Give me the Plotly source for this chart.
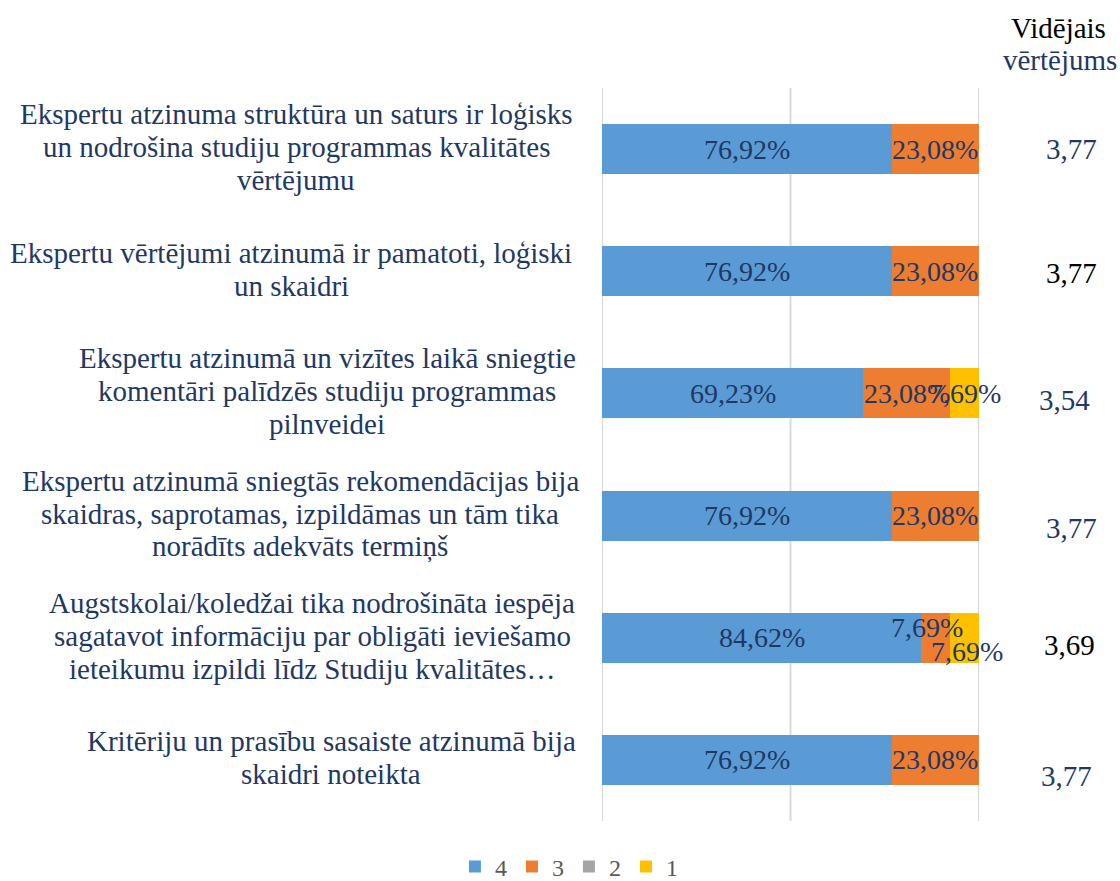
import plotly.graph_objects as go

categories = [
    ["Ekspertu atzinuma struktūra un saturs ir loģisks",
     "un nodrošina studiju programmas kvalitātes", "vērtējumu"],
    ["Ekspertu vērtējumi atzinumā ir pamatoti, loģiski", "un skaidri"],
    ["Ekspertu atzinumā un vizītes laikā sniegtie",
     "komentāri palīdzēs studiju programmas", "pilnveidei"],
    ["Ekspertu atzinumā sniegtās rekomendācijas bija",
     "skaidras, saprotamas, izpildāmas un tām tika", "norādīts adekvāts termiņš"],
    ["Augstskolai/koledžai tika nodrošināta iespēja",
     "sagatavot informāciju par obligāti ieviešamo",
     "ieteikumu izpildi līdz Studiju kvalitātes…"],
    ["Kritēriju un prasību sasaiste atzinumā bija", "skaidri noteikta"],
]
series_names = ["4", "3", "2", "1"]
v4 = [76.92, 76.92, 69.23, 76.92, 84.62, 76.92]
v3 = [23.08, 23.08, 23.08, 23.08, 7.69, 23.08]
v2 = [0, 0, 0, 0, 0, 0]
v1 = [0, 0, 7.69, 0, 7.69, 0]
averages = ["3,77", "3,77", "3,54", "3,77", "3,69", "3,77"]
header = ["Vidējais", "vērtējums"]

colors = ["#5B9BD5", "#ED7D31", "#A5A5A5", "#FFC000"]
avg_colors = ["#1F3864", "#000000", "#1F3864", "#1F3864", "#000000", "#1F3864"]
avg_yshift = [0, -2, -7, -12, -7, -16]
avg_x = [1.245, 1.245, 1.226, 1.245, 1.24, 1.232]
label_centers_px = [296, 291, 327, 300, 312, 331]

FONT = "Liberation Serif"
NAVY = "#1F3864"
FIG_W, FIG_H = 1120, 881
PLOT_W, PLOT_H = 377, 733
L, T = 602, 88
ys = list(range(len(categories)))

fig = go.Figure()
all_vals = [v4, v3, v2, v1]
for name, vals, col in zip(series_names, all_vals, colors):
    fig.add_trace(go.Bar(
        y=ys, x=vals, name=name, orientation="h",
        marker=dict(color=col, line=dict(width=0)),
        hoverinfo="x+name",
    ))

annotations = []
# data labels
label_shift = {(4, 1): (-9, 10), (4, 3): (2, -14)}
for i in ys:
    cum = 0
    for s, vals in enumerate(all_vals):
        v = vals[i]
        if v > 0:
            dx, dy = label_shift.get((i, s), (0, 0))
            annotations.append(dict(
                x=cum + v / 2, y=i, xref="x", yref="y",
                text=f"{v:.2f}%".replace(".", ","),
                showarrow=False, font=dict(family=FONT, size=28, color=NAVY),
                xshift=dx, yshift=dy,
            ))
        cum += v

# category labels, one annotation per line
LINE_H = 33
for i, lines in enumerate(categories):
    xc = (label_centers_px[i] - L) / PLOT_W
    n = len(lines)
    for k, line in enumerate(lines):
        annotations.append(dict(
            x=xc, y=i, xref="paper", yref="y", text=line, showarrow=False,
            xanchor="center", yanchor="middle",
            yshift=((n - 1) / 2 - k) * LINE_H + 2,
            font=dict(family=FONT, size=29, color=NAVY),
        ))

# averages
for i, (a, col, sh, ax) in enumerate(zip(averages, avg_colors, avg_yshift, avg_x)):
    annotations.append(dict(
        x=ax, y=i, xref="paper", yref="y", text=a, showarrow=False,
        xanchor="center", yshift=sh,
        font=dict(family=FONT, size=29, color=col),
    ))

hx = (1058 - L) / PLOT_W
annotations.append(dict(x=hx, y=1.0, xref="paper", yref="paper", yanchor="middle",
                        xanchor="center", yshift=T - 28, text=header[0], showarrow=False,
                        font=dict(family=FONT, size=29, color="#000000")))
annotations.append(dict(x=hx + 0.005, y=1.0, xref="paper", yref="paper", yanchor="middle",
                        xanchor="center", yshift=T - 60, text=header[1], showarrow=False,
                        font=dict(family=FONT, size=29, color=NAVY)))

shapes = [dict(type="line", xref="x", yref="paper", x0=g, x1=g, y0=0, y1=1,
               line=dict(color="#D9D9D9", width=2), layer="below")
          for g in (0, 50, 100)]

fig.update_layout(
    barmode="stack",
    bargap=0.59,
    width=FIG_W, height=FIG_H,
    margin=dict(l=L, r=FIG_W - L - PLOT_W, t=T, b=FIG_H - T - PLOT_H),
    plot_bgcolor="white", paper_bgcolor="white",
    xaxis=dict(range=[0, 100], showgrid=False, zeroline=False,
               showticklabels=False, fixedrange=True),
    yaxis=dict(autorange="reversed", showticklabels=False, showgrid=False,
               zeroline=False),
    showlegend=True,
    legend=dict(orientation="h", xref="container", yref="container",
                x=0.508, xanchor="center", y=1 - 867 / FIG_H, yanchor="middle",
                font=dict(family=FONT, size=24, color="#595959"),
                traceorder="normal", itemwidth=30),
    annotations=annotations,
    shapes=shapes,
    font=dict(family=FONT),
)

fig.write_html(
    "out.html",
    config={"displayModeBar": False},
    post_script="document.body.style.margin='0';document.body.style.overflow='hidden';",
)
